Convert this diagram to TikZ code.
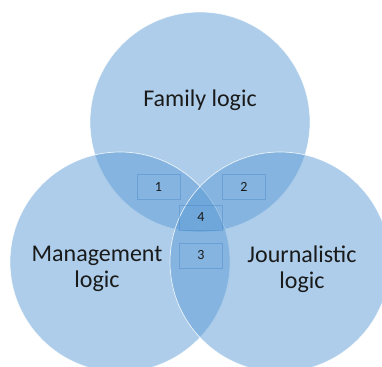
\documentclass[tikz,border=0pt]{standalone}
\usepackage{fontspec}
\setmainfont{Carlito}
\definecolor{vennblue}{HTML}{5B9BD5}
\definecolor{boxblue}{HTML}{3D7CC4}
\definecolor{txt}{HTML}{1A1A1A}
\begin{document}
\begin{tikzpicture}[x=1pt,y=-1pt,
  venn/.style={circle, inner sep=0pt, minimum size=220pt, fill=vennblue, fill opacity=0.5, draw=white, draw opacity=0.8, line width=0.7pt},
  label/.style={font=\fontsize{24}{26}\selectfont, text=txt, align=center},
  numbox/.style={draw=boxblue, draw opacity=0.35, line width=0.9pt, minimum width=43pt, minimum height=25pt, inner sep=0pt, font=\fontsize{14}{16}\selectfont, text=txt}
]
\useasboundingbox (0,0) rectangle (382,366);
\node[venn] (fam) at (200,122) {};
\node[venn] (man) at (120,262) {};
\node[venn] (jou) at (280,262) {};
\node[label] (famt) at (200,100) {Family logic};
\node[label] (mant) at (97,269) {Management\\logic};
\node[label] (jout) at (302,269) {Journalistic\\logic};
\node[numbox] (b1) at (158.5,186.5) {1};
\node[numbox] (b2) at (244,186.5) {2};
\node[numbox] (b4) at (201,217.5) {4};
\node[numbox] (b3) at (201,255.5) {3};
\end{tikzpicture}
\end{document}
